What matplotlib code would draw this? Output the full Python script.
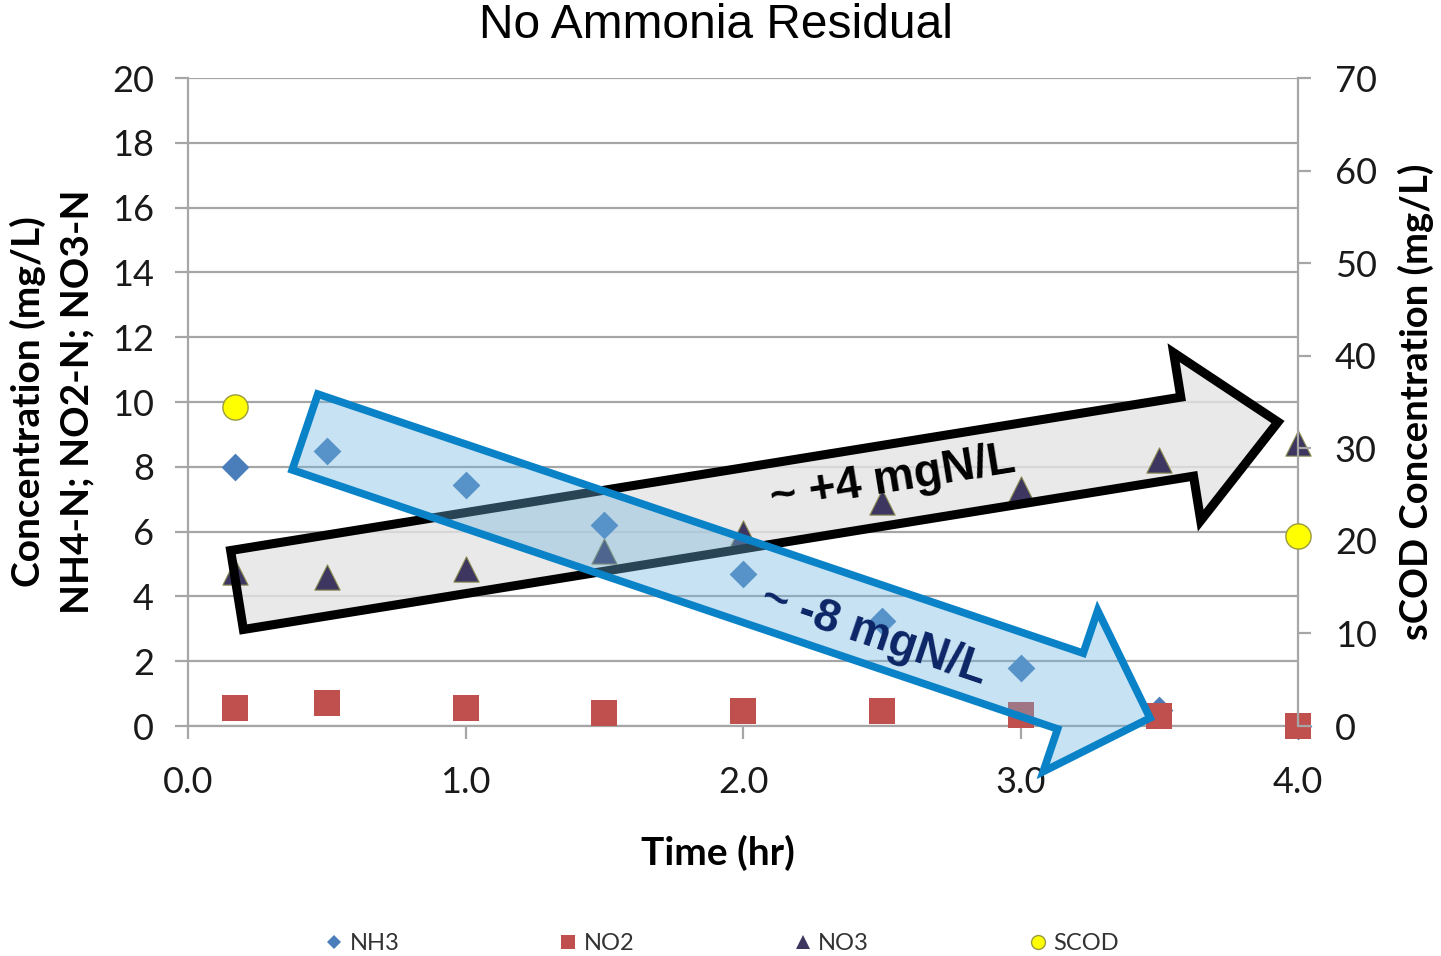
import numpy as np
import matplotlib
matplotlib.use("Agg")
import matplotlib.pyplot as plt
from matplotlib.patches import Polygon
from matplotlib.lines import Line2D

# data
time_hr = [0.17, 0.5, 1.0, 1.5, 2.0, 2.5, 3.0, 3.5, 4.0]
nh3 = [8.0, 8.5, 7.45, 6.2, 4.7, 3.25, 1.8, 0.5, 0.0]
no2 = [0.55, 0.7, 0.55, 0.4, 0.45, 0.45, 0.35, 0.3, 0.0]
no3 = [4.75, 4.6, 4.85, 5.4, 5.95, 6.9, 7.3, 8.2, 8.75]
scod_time = [0.17, 4.0]
scod = [34.5, 20.5]

x_ticks = [0, 1, 2, 3, 4]
left_ticks = list(range(0, 21, 2))
right_ticks = list(range(0, 71, 10))

W, H = 1441, 956
plt.rcParams['font.family'] = ['Lato', 'DejaVu Sans']

fig = plt.figure(figsize=(W / 100, H / 100), dpi=100)
ax = fig.add_axes([188 / W, 1 - 726 / H, (1298 - 188) / W, (726 - 78) / H])
ax2 = ax.twinx()

grid_c = '#a6a6a6'
ax.scatter(time_hr, nh3, marker='D', s=200, color='#4a7ebb', zorder=3, linewidths=0)
ax.scatter(time_hr, no2, marker='s', s=330, color='#c0504d', zorder=3, linewidths=0)
ax.scatter(time_hr, no3, marker='^', s=330, color='#3c3660', edgecolors='#8a8a50',
           linewidths=0.8, zorder=3)
ax2.scatter(scod_time, scod, marker='o', s=330, color='#ffff00', edgecolors='#9a9a40',
            linewidths=1.0, zorder=3)
for a in (ax, ax2):
    for c in a.collections:
        c.set_clip_on(False)

ax.set_xlim(0, 4)
ax.set_ylim(0, 20)
ax2.set_ylim(0, 70)
ax.set_xticks(x_ticks)
ax.set_xticklabels(['%.1f' % t for t in x_ticks])
ax.set_yticks(left_ticks)
ax2.set_yticks(right_ticks)
ax.yaxis.grid(True, color=grid_c, lw=1.6, zorder=0.5)
ax.set_axisbelow(True)

for a in (ax, ax2):
    for s in a.spines.values():
        s.set_color(grid_c)
        s.set_linewidth(1.6)
    a.spines['top'].set_visible(False)
ax.spines['right'].set_visible(False)
ax2.spines['left'].set_visible(False)
ax2.spines['bottom'].set_visible(False)

ax.tick_params(axis='both', length=9.5, width=1.6, color=grid_c, labelsize=26,
               labelcolor='#1a1a1a', direction='out')
ax.tick_params(axis='y', pad=15)
ax.tick_params(axis='x', pad=19)
ax2.tick_params(axis='y', length=9.5, width=1.6, color=grid_c, labelsize=26,
                labelcolor='#1a1a1a', pad=17)

ax.set_xlabel('Time (hr)', fontsize=28, fontweight='bold')
ax.xaxis.set_label_coords((718 - 188) / 1110, -(853 - 726) / 648)
ax.xaxis.label.set_va('center')
ax.set_ylabel('Concentration (mg/L)\nNH4-N; NO2-N; NO3-N', fontsize=28,
              fontweight='bold', linespacing=1.45)
ax2.set_ylabel('sCOD Concentration (mg/L)', fontsize=27.5, fontweight='bold')
ax.yaxis.set_label_coords((94 - 188) / 1110, 0.5)
ax2.yaxis.set_label_coords((1398 - 188) / 1110, 0.5)

fig.text(716 / W, 1 - 26 / H, 'No Ammonia Residual', ha='center', va='center',
         fontsize=34.5, family='Liberation Sans')


def arrow_poly(x0, y0, x1, y1, width, head_w, head_len):
    # block arrow outline in image pixels, returned in figure fraction
    p0 = np.array([x0, y0], float)
    p1 = np.array([x1, y1], float)
    d = p1 - p0
    u = d / np.hypot(*d)
    n = np.array([-u[1], u[0]])
    b = p1 - u * head_len
    pts = [p0 + n * width / 2, b + n * width / 2, b + n * head_w / 2, p1,
           b - n * head_w / 2, b - n * width / 2, p0 - n * width / 2]
    return [(px / W, 1 - py / H) for px, py in pts]


up_arrow = arrow_poly(237, 590, 1278, 422, 80, 170, 92)
down_arrow = arrow_poly(305, 432, 1150, 718, 80, 170, 84)
layers = [
    Polygon(up_arrow, facecolor='#e4e4e4', alpha=0.8, edgecolor='none', zorder=1.5),
    Polygon(up_arrow, facecolor='none', edgecolor='black', lw=6.5,
            joinstyle='miter', zorder=3.5),
    Polygon(down_arrow, facecolor='#6eb4de', alpha=0.38, edgecolor='none', zorder=3.6),
    Polygon(down_arrow, facecolor='none', edgecolor='#0a82c8', lw=5.5,
            joinstyle='miter', zorder=3.8),
]
for p in layers:
    p.set_transform(fig.transFigure)
    p.set_clip_on(False)
    ax.add_patch(p)

fig.text(893 / W, 1 - 479 / H, '~ +4 mgN/L', ha='center', va='center', rotation=9.2,
         fontsize=33, fontweight='bold', family='Liberation Sans', color='black',
         zorder=9)
fig.text(874 / W, 1 - 635 / H, '~ -8 mgN/L', ha='center', va='center', rotation=-18.7,
         fontsize=33, fontweight='bold', family='Liberation Sans', color='#0b2566',
         zorder=9)

handles = [
    Line2D([], [], ls='none', marker='D', ms=7, color='#4a7ebb', mew=0),
    Line2D([], [], ls='none', marker='s', ms=10, color='#c0504d', mew=0),
    Line2D([], [], ls='none', marker='^', ms=10, color='#3c3660', mew=0),
    Line2D([], [], ls='none', marker='o', ms=10, color='#ffff00', mec='#9a9a40', mew=1),
]
fig.legend(handles, ['NH3', 'NO2', 'NO3', 'SCOD'], loc='center',
           bbox_to_anchor=(720 / W, 1 - 944 / H), ncol=4, frameon=False,
           fontsize=17, columnspacing=6.6, handletextpad=0.1, handlelength=1.1,
           labelcolor='#333333')

fig.savefig('out.png', dpi=100)
